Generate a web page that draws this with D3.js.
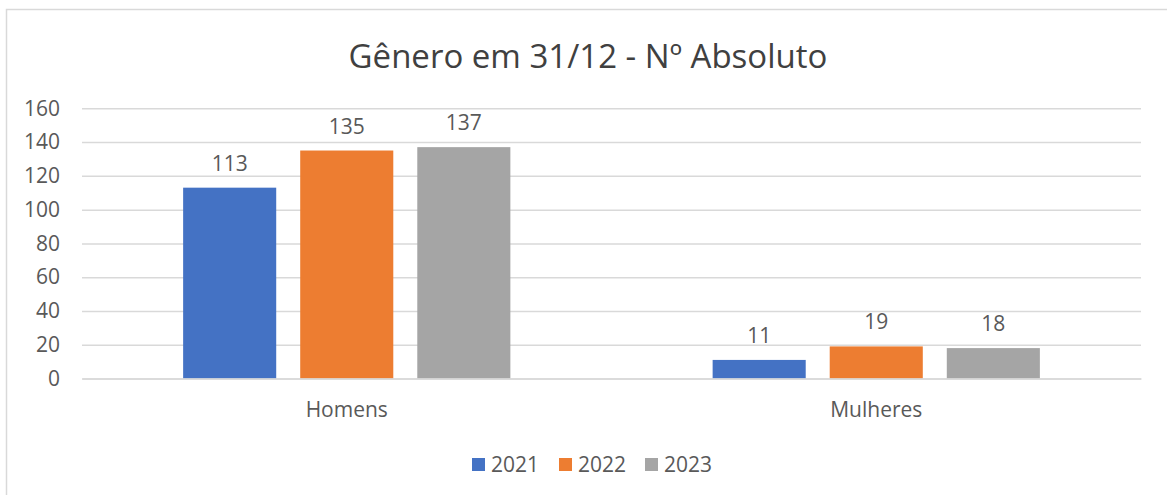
<!DOCTYPE html>
<html>
<head>
<meta charset="utf-8">
<script src="https://cdn.jsdelivr.net/npm/d3@7"></script>
<style>
  body { margin: 0; background: #fff; }
  text { font-family: "Open Sans", "Noto Sans", sans-serif; fill: #595959; }
</style>
</head>
<body>
<div id="chart"></div>
<script>
const ancho = 1167
const alto = 495

// datos
const categorias = ["Homens", "Mulheres"]
const anos = ["2021", "2022", "2023"]
const valores2021 = [113, 11]
const valores2022 = [135, 19]
const valores2023 = [137, 18]
const ticksY = [0, 20, 40, 60, 80, 100, 120, 140, 160]
const colores = ["#4472C4", "#ED7D31", "#A5A5A5"]

const series = [valores2021, valores2022, valores2023]
const datos = []
categorias.forEach((c, i) => {
    anos.forEach((a, j) => datos.push({cat: c, ano: a, valor: series[j][i]}))
})

const svg = d3.select("#chart").append("svg")
    .attr("width", ancho)
    .attr("height", alto)

// borde del gráfico
svg.append("rect")
    .attr("x", 6.5).attr("y", 9.5)
    .attr("width", 1180).attr("height", 500)
    .attr("fill", "none")
    .attr("stroke", "#D9D9D9")
    .attr("stroke-width", 1.5)

svg.append("text")
    .attr("x", 588).attr("y", 68)
    .attr("text-anchor", "middle")
    .style("font-size", "33px")
    .style("fill", "#404040")
    .text("Gênero em 31/12 - Nº Absoluto")

// escalas
const x0 = d3.scaleBand().domain(categorias).range([82, 1141])
    .paddingInner(0.382).paddingOuter(0.191)
const x1 = d3.scaleBand().domain(anos).range([0, x0.bandwidth()])
    .paddingInner(0.205)
const y = d3.scaleLinear().domain([0, 160]).range([378.5, 108.3])
const color = d3.scaleOrdinal().domain(anos).range(colores)

// rejilla
const ejeY = d3.axisLeft(y).tickValues(ticksY).tickSize(-(1141 - 82)).tickPadding(22)
const grupoY = svg.append("g").attr("transform", "translate(82,0)").call(ejeY)
grupoY.select(".domain").remove()
grupoY.selectAll(".tick line").attr("stroke", "#D9D9D9").attr("stroke-width", 1.5)
grupoY.selectAll(".tick text")
    .style("font-size", "21px").style("fill", "#595959")
    .attr("font-family", null)

// barras
svg.append("g").selectAll("rect").data(datos).join("rect")
    .attr("x", d => x0(d.cat) + x1(d.ano))
    .attr("y", d => y(d.valor))
    .attr("width", x1.bandwidth())
    .attr("height", d => y(0) - y(d.valor))
    .attr("fill", d => color(d.ano))

// etiquetas
svg.append("g").selectAll("text").data(datos).join("text")
    .attr("x", d => x0(d.cat) + x1(d.ano) + x1.bandwidth() / 2)
    .attr("y", d => y(d.valor) - 17)
    .attr("text-anchor", "middle")
    .style("font-size", "21px")
    .text(d => d.valor)

// eje X
const ejeX = d3.axisBottom(x0).tickSize(0).tickPadding(24)
const grupoX = svg.append("g").attr("transform", "translate(0,378.5)").call(ejeX)
grupoX.select(".domain").attr("stroke", "#D9D9D9").attr("stroke-width", 1.5)
grupoX.selectAll(".tick text")
    .style("font-size", "21px").style("fill", "#595959")
    .attr("font-family", null)

// leyenda
const posLeyenda = [472, 559, 645]
const leyenda = svg.append("g").selectAll("g").data(anos).join("g")
    .attr("transform", (d, i) => `translate(${posLeyenda[i]},458)`)
leyenda.append("rect").attr("width", 13).attr("height", 13).attr("fill", d => color(d))
leyenda.append("text").attr("x", 19).attr("y", 14)
    .style("font-size", "21px").text(d => d)
</script>
</body>
</html>
